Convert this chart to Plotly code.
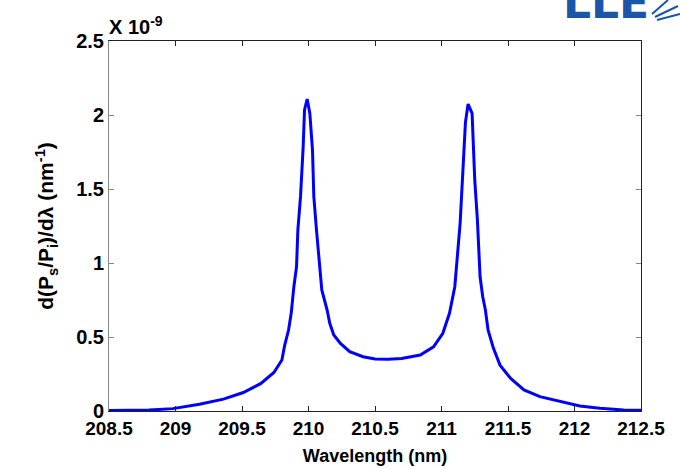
import plotly.graph_objects as go

# Wavelength (nm)
wavelength = [208.50, 208.80, 208.98, 209.18, 209.36, 209.51, 209.64, 209.74, 209.80, 209.82,
              209.85, 209.87, 209.89, 209.91, 209.92, 209.94, 209.96, 209.97, 209.99, 210.01,
              210.03, 210.04, 210.06, 210.08, 210.10, 210.14, 210.16, 210.19, 210.24, 210.31,
              210.41, 210.50, 210.60, 210.70, 210.84, 210.94, 211.01, 211.06, 211.10, 211.14,
              211.17, 211.18, 211.20, 211.23, 211.25, 211.27, 211.29, 211.31, 211.33, 211.35,
              211.39, 211.44, 211.52, 211.62, 211.74, 211.89, 212.04, 212.19, 212.37, 212.50]
# d(Ps/Pi)/dlambda in units of 1e-9 nm^-1
signal = [0.004, 0.006, 0.016, 0.045, 0.080, 0.125, 0.185, 0.260, 0.345, 0.440,
          0.547, 0.660, 0.840, 0.975, 1.223, 1.448, 1.786, 2.034, 2.108, 2.011,
          1.764, 1.448, 1.223, 1.043, 0.818, 0.682, 0.593, 0.514, 0.457, 0.401,
          0.367, 0.352, 0.350, 0.355, 0.378, 0.434, 0.525, 0.660, 0.840, 1.268,
          1.809, 1.950, 2.074, 2.011, 1.561, 1.290, 0.907, 0.772, 0.682, 0.547,
          0.425, 0.310, 0.220, 0.142, 0.097, 0.063, 0.034, 0.018, 0.007, 0.005]

x_ticks = [208.5, 209, 209.5, 210, 210.5, 211, 211.5, 212, 212.5]
x_ticklabels = ["208.5", "209", "209.5", "210", "210.5", "211", "211.5", "212", "212.5"]
y_ticks = [0, 0.5, 1, 1.5, 2, 2.5]
y_ticklabels = ["0", "0.5", "1", "1.5", "2", "2.5"]

FONT = "Liberation Sans, Arial, sans-serif"
L, R, T, B = 109, 641, 41, 411
PW, PH = R - L, B - T

fig = go.Figure()
fig.add_trace(go.Scatter(x=wavelength, y=signal, mode="lines",
                         line=dict(color="#0000ff", width=3), showlegend=False))
# invisible trace to carry the right-hand axis
fig.add_trace(go.Scatter(x=[wavelength[0]], y=[signal[0]], yaxis="y2", mode="lines",
                         line=dict(width=0), showlegend=False, hoverinfo="skip"))

fig.update_layout(
    width=680, height=469,
    margin=dict(l=L, r=680 - R, t=T, b=469 - B, autoexpand=False),
    paper_bgcolor="white", plot_bgcolor="white",
    font=dict(family=FONT, color="black"),
    xaxis=dict(range=[208.5, 212.5], tickvals=x_ticks, ticktext=x_ticklabels,
               automargin=False,
               showgrid=False, zeroline=False, showline=True, linecolor="#222",
               linewidth=1, mirror="ticks", ticks="inside", ticklen=5, tickcolor="#222",
               tickfont=dict(family=FONT, size=19, color="black", weight="bold"),
               title=dict(text="<b>Wavelength (nm)</b>", font=dict(family=FONT, size=18),
                          standoff=11)),
    yaxis=dict(range=[0, 2.5], tickvals=y_ticks, ticktext=y_ticklabels,
               automargin=False,
               showgrid=False, zeroline=False, showline=True, linecolor="#888",
               linewidth=1, ticks="inside", ticklen=5, tickcolor="#888",
               tickfont=dict(family=FONT, size=20, color="black", weight="bold"),
               title=dict(text="<b>d(P<sub>s</sub>/P<sub>i</sub>)/dλ (nm<sup>-1</sup>)</b>",
                          font=dict(family=FONT, size=21), standoff=16)),
    yaxis2=dict(range=[0, 2.5], overlaying="y", side="right", tickvals=y_ticks,
                automargin=False,
                showticklabels=False, showgrid=False, zeroline=False, showline=True,
                linecolor="#222", linewidth=1, ticks="inside", ticklen=5, tickcolor="#888"),
)

fig.add_annotation(xref="paper", yref="paper", x=0, y=1, xanchor="left", yanchor="bottom",
                   yshift=1, xshift=-2, showarrow=False, text="<b>X 10<sup>-9</sup></b>",
                   font=dict(family=FONT, size=20, color="black"))

# LLE logo (partially cut off at top)
fig.add_annotation(xref="paper", yref="paper", x=(561 - L) / PW, y=(B - 30) / PH,
                   xanchor="left", yanchor="bottom", showarrow=False,
                   text="<b>LLE</b>", font=dict(family="DejaVu Sans", size=44, color="#1a56a8"))
for (x0, y0, x1, y1) in [(652, 14, 668, 0), (655, 17, 678, 6), (657, 20, 680, 14)]:
    fig.add_shape(type="line", xref="paper", yref="paper",
                  x0=(x0 - L) / PW, y0=(B - y0) / PH, x1=(x1 - L) / PW, y1=(B - y1) / PH,
                  line=dict(color="#1a56a8", width=2))

fig.write_html("out.html", config={"displayModeBar": False},
               post_script="document.body.style.margin='0px';")
